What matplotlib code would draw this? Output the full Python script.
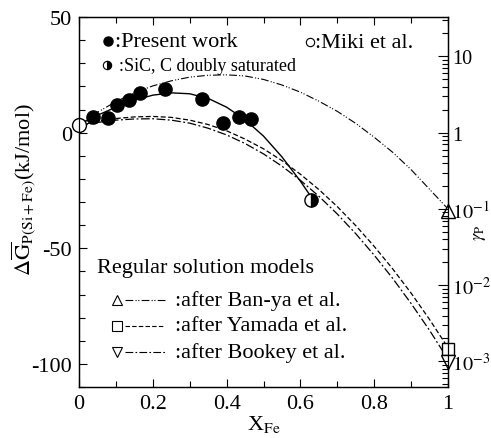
import numpy as np
import matplotlib
matplotlib.use("Agg")
import matplotlib.pyplot as plt
from matplotlib.ticker import MultipleLocator, LogLocator, FuncFormatter, NullFormatter

plt.rcParams['font.family'] = ['Liberation Serif', 'DejaVu Serif']
plt.rcParams['mathtext.fontset'] = 'stix'
plt.rcParams['axes.unicode_minus'] = False

# Present work (filled circles)
x_present = [0.037, 0.079, 0.102, 0.136, 0.165, 0.234, 0.334, 0.391, 0.434, 0.466]
g_present = [6.7, 6.5, 12.0, 14.2, 17.0, 18.8, 14.6, 4.0, 6.7, 5.7]

# SiC, C doubly saturated (half-filled circle)
x_sat = [0.629]
g_sat = [-29.0]

# Miki et al. (open circle)
x_miki = [0.0]
g_miki = [3.5]

# Smooth fit through present work
x_fit = [0.00, 0.05, 0.10, 0.15, 0.20, 0.25, 0.30, 0.35, 0.40, 0.45, 0.50, 0.55, 0.60, 0.63]
g_fit = [3.5, 7.5, 11.0, 14.0, 16.2, 17.2, 16.8, 14.8, 11.0, 5.6, -1.5, -10.5, -21.0, -28.0]

# Regular solution models
x_model = [0.00, 0.05, 0.10, 0.15, 0.20, 0.25, 0.30, 0.35, 0.40, 0.45, 0.50,
           0.55, 0.60, 0.65, 0.70, 0.75, 0.80, 0.85, 0.90, 0.95, 1.00]
g_banya = [3.5, 8.8, 13.4, 17.2, 20.2, 22.4, 24.0, 24.8, 25.0, 24.5, 23.0,
           20.6, 17.5, 13.6, 9.2, 4.0, -2.0, -8.5, -16.0, -24.5, -33.0]
g_yamada = [3.0, 4.9, 6.1, 6.8, 7.0, 6.6, 5.4, 3.5, 0.8, -2.8, -7.0,
            -12.1, -18.0, -24.6, -32.0, -40.2, -49.2, -58.9, -69.4, -80.8, -93.0]
g_bookey = [2.8, 4.4, 5.4, 5.9, 6.0, 5.4, 4.1, 1.9, -1.0, -4.7, -9.2,
            -14.5, -20.6, -27.5, -35.2, -43.7, -53.0, -63.0, -73.9, -85.5, -98.0]

# End-point values at pure Fe
x_end = [1.0]
g_end_banya = [-34.0]
g_end_yamada = [-93.5]
g_end_bookey = [-99.0]

# RT ln(10) at 1723 K, kJ/mol: one decade of gamma_P
decade_kj = 8.314e-3 * 1723 * np.log(10)

ylim = (-110, 50)

ls_banya = (0, (7, 2, 1, 1.5, 1, 2))
ls_yamada = (0, (4, 2))
ls_bookey = (0, (7, 2, 1.5, 2))

fig = plt.figure(figsize=(4.91, 4.39), dpi=100)
ax = fig.add_axes([79 / 491, 51 / 439, 369 / 491, 370 / 439])

ax.plot(x_model, g_banya, color='black', lw=0.8, ls=ls_banya, zorder=2)
ax.plot(x_model, g_yamada, color='black', lw=0.9, ls=ls_yamada, zorder=2)
ax.plot(x_model, g_bookey, color='black', lw=0.9, ls=ls_bookey, zorder=2)
ax.plot(x_fit, g_fit, color='black', lw=1.0, zorder=2)

ax.plot(x_present, g_present, 'o', color='black', ms=9.5, zorder=4, clip_on=False)
ax.plot(x_sat, g_sat, 'o', ms=9.5, mfc='black', mfcalt='white', mec='black',
        fillstyle='right', mew=1.0, zorder=4, clip_on=False)
ax.plot(x_miki, g_miki, 'o', ms=10, mfc='white', mec='black', mew=1.0,
        zorder=5, clip_on=False)
ax.plot(x_end, g_end_banya, '^', ms=10.5, mfc='white', mec='black', mew=1.0,
        zorder=5, clip_on=False)
ax.plot(x_end, g_end_yamada, 's', ms=9, mfc='white', mec='black', mew=1.0,
        zorder=5, clip_on=False)
ax.plot(x_end, g_end_bookey, 'v', ms=10.5, mfc='white', mec='black', mew=1.0,
        zorder=5, clip_on=False)

ax.set_xlim(0, 1)
ax.set_ylim(*ylim)
ax.xaxis.set_major_locator(MultipleLocator(0.2))
ax.xaxis.set_minor_locator(MultipleLocator(0.1))
ax.yaxis.set_major_locator(MultipleLocator(50))
ax.yaxis.set_minor_locator(MultipleLocator(10))
ax.xaxis.set_major_formatter(FuncFormatter(lambda v, p: '%g' % round(v, 1)))
ax.tick_params(which='both', direction='in', top=True, right=False,
               labelsize=16, width=0.8)
ax.tick_params(which='major', length=6, pad=5)
ax.tick_params(which='minor', length=4)
for s in ax.spines.values():
    s.set_linewidth(0.9)

ax.set_xlabel(r'X$_{\mathrm{Fe}}$', fontsize=16, labelpad=0)
ax.set_ylabel(r'$\Delta\overline{\mathrm{G}}_{\mathrm{P(Si+Fe)}}$(kJ/mol)', fontsize=16)
ax.yaxis.set_label_coords(-0.108, 0.535)

# Activity coefficient scale
ax2 = ax.twinx()
ax2.set_yscale('log')
ax2.set_ylim(10 ** (ylim[0] / decade_kj), 10 ** (ylim[1] / decade_kj))
ax2.yaxis.set_major_locator(LogLocator(base=10, numticks=12))
ax2.yaxis.set_minor_locator(LogLocator(base=10, subs=np.arange(2, 10), numticks=12))
ax2.yaxis.set_minor_formatter(NullFormatter())


def gamma_label(v, pos):
    e = int(round(np.log10(v)))
    if e == 0:
        return '1'
    if e == 1:
        return '10'
    return r'$10^{%d}$' % e


ax2.yaxis.set_major_formatter(FuncFormatter(gamma_label))
ax2.tick_params(which='both', direction='in', labelsize=14.5, width=0.8)
ax2.tick_params(which='major', length=7, pad=3)
ax2.tick_params(which='minor', length=4)
ax2.set_ylabel(r'$\gamma_{\mathrm{P}}$', fontsize=13, rotation=90)
ax2.yaxis.set_label_coords(1.062, 0.42)
for s in ax2.spines.values():
    s.set_linewidth(0.9)

# Symbol keys
T = ax.transAxes
ax.plot([0.079], [0.935], 'o', color='black', ms=6.5, transform=T, clip_on=False)
ax.text(0.098, 0.935, ':Present work', transform=T, fontsize=16, va='center')
ax.plot([0.076], [0.870], 'o', ms=6, mfc='black', mfcalt='white', mec='black',
        fillstyle='right', mew=0.8, transform=T, clip_on=False)
ax.text(0.108, 0.870, ':SiC, C doubly saturated', transform=T, fontsize=13, va='center')
ax.plot([0.626], [0.932], 'o', ms=6, mfc='white', mec='black', mew=0.8,
        transform=T, clip_on=False)
ax.text(0.640, 0.932, ':Miki et al.', transform=T, fontsize=16, va='center')

ax.text(0.049, 0.322, 'Regular solution models', transform=T, fontsize=16, va='center')
rows = [
    ('^', ls_banya, ':after Ban-ya et al.', 0.235),
    ('s', ls_yamada, ':after Yamada et al.', 0.165),
    ('v', ls_bookey, ':after Bookey et al.', 0.095),
]
for mk, ls, label, fy in rows:
    ax.plot([0.103], [fy], mk, ms=6.5, mfc='white', mec='black', mew=0.8,
            transform=T, clip_on=False)
    ax.plot([0.125, 0.233], [fy, fy], color='black', lw=0.8, ls=ls, transform=T)
    ax.text(0.26, fy, label, transform=T, fontsize=16, va='center')

fig.savefig('out.png', dpi=100)
